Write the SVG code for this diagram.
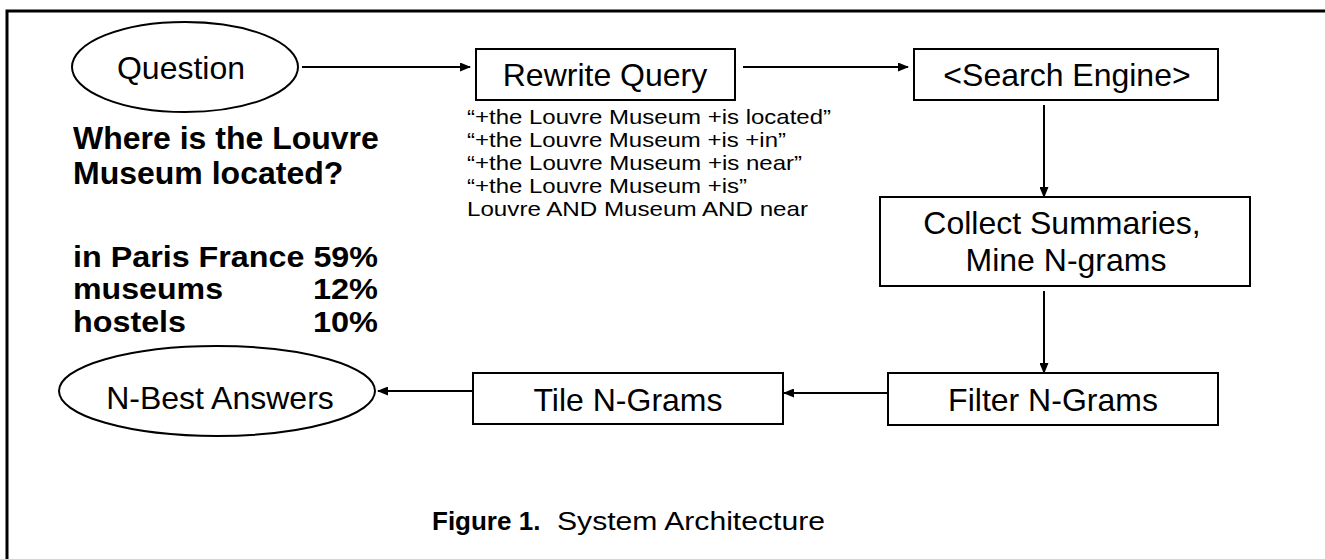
<svg xmlns="http://www.w3.org/2000/svg" width="1325" height="559" viewBox="0 0 1325 559">
<style>
  .t { font-family: "Liberation Sans", Arial, sans-serif; fill: #000; }
  .lbl { font-size: 32px; text-anchor: middle; }
  .b { font-weight: bold; font-size: 32px; }
  .a { font-weight: bold; font-size: 29px; }
  .q { font-size: 21px; }
  .shape { fill: #fff; stroke: #000; stroke-width: 2; }
  .conn { stroke: #000; stroke-width: 2; fill: none; marker-end: url(#arr); }
</style>
<defs>
  <marker id="arr" markerWidth="11" markerHeight="9" refX="10" refY="4.5" orient="auto" markerUnits="userSpaceOnUse">
    <path d="M0,0 L11,4.5 L0,9 Z" fill="#000"/>
  </marker>
</defs>
<rect width="1325" height="559" fill="#fff"/>
<path d="M7,559 V11 H1325" fill="none" stroke="#000" stroke-width="3"/>

<g id="connectors">
  <line class="conn" x1="302" y1="67" x2="470" y2="67"/>
  <line class="conn" x1="743" y1="67" x2="908" y2="67"/>
  <line class="conn" x1="1044" y1="105" x2="1044" y2="197"/>
  <line class="conn" x1="1044" y1="291" x2="1044" y2="373"/>
  <line class="conn" x1="888" y1="393" x2="784" y2="393"/>
  <line class="conn" x1="473" y1="391" x2="378" y2="391"/>
</g>

<g id="question">
  <ellipse class="shape" cx="185" cy="67" rx="113" ry="45"/>
  <text class="t lbl" x="181" y="79">Question</text>
</g>

<g id="rewrite">
  <rect class="shape" x="476" y="49" width="259" height="51"/>
  <text class="t lbl" x="605" y="86">Rewrite Query</text>
</g>

<g id="rewrites">
  <text class="t q" x="467" y="124" textLength="364" lengthAdjust="spacingAndGlyphs">“+the Louvre Museum +is located”</text>
  <text class="t q" x="467" y="147" textLength="319" lengthAdjust="spacingAndGlyphs">“+the Louvre Museum +is +in”</text>
  <text class="t q" x="467" y="170" textLength="335" lengthAdjust="spacingAndGlyphs">“+the Louvre Museum +is near”</text>
  <text class="t q" x="467" y="193" textLength="280" lengthAdjust="spacingAndGlyphs">“+the Louvre Museum +is”</text>
  <text class="t q" x="467" y="216" textLength="341" lengthAdjust="spacingAndGlyphs">Louvre AND Museum AND near</text>
</g>

<g id="search">
  <rect class="shape" x="914" y="49" width="304" height="51"/>
  <text class="t lbl" x="1067" y="86">&lt;Search Engine&gt;</text>
</g>

<g id="collect">
  <rect class="shape" x="880" y="197" width="370" height="89"/>
  <text class="t lbl" x="1062" y="234">Collect Summaries,</text>
  <text class="t lbl" x="1066" y="271">Mine N-grams</text>
</g>

<g id="filter">
  <rect class="shape" x="888" y="373" width="330" height="52"/>
  <text class="t lbl" x="1053" y="411">Filter N-Grams</text>
</g>

<g id="tile">
  <rect class="shape" x="473" y="373" width="310" height="51"/>
  <text class="t lbl" x="628" y="411">Tile N-Grams</text>
</g>

<g id="nbest">
  <ellipse class="shape" cx="217" cy="391" rx="158" ry="45"/>
  <text class="t lbl" x="220" y="409">N-Best Answers</text>
</g>

<g id="question-text">
  <text class="t b" x="73" y="149">Where is the Louvre</text>
  <text class="t b" x="73" y="184">Museum located?</text>
</g>

<g id="answers">
  <text class="t a" x="73" y="267" textLength="305" lengthAdjust="spacingAndGlyphs">in Paris France 59%</text>
  <text class="t a" x="73" y="299" textLength="150" lengthAdjust="spacingAndGlyphs">museums</text>
  <text class="t a" x="313" y="299" textLength="65" lengthAdjust="spacingAndGlyphs">12%</text>
  <text class="t a" x="73" y="332" textLength="113" lengthAdjust="spacingAndGlyphs">hostels</text>
  <text class="t a" x="313" y="332" textLength="65" lengthAdjust="spacingAndGlyphs">10%</text>
</g>

<g id="caption">
  <text class="t" x="432" y="530" font-size="26px" font-weight="bold">Figure 1.</text>
  <text class="t" x="557" y="530" font-size="26px" textLength="268" lengthAdjust="spacingAndGlyphs">System Architecture</text>
</g>
</svg>
